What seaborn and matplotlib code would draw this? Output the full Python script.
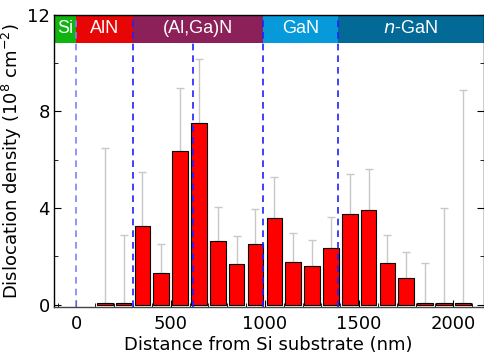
import numpy as np
import pandas as pd
import matplotlib
matplotlib.use("Agg")
import matplotlib.pyplot as plt
from matplotlib.ticker import MultipleLocator
import seaborn as sns

# ---- data ----
distance_nm = [150, 250, 350, 450, 550, 650, 750, 850, 950, 1050, 1150,
               1250, 1350, 1450, 1550, 1650, 1750, 1850, 1950, 2050]
density = [0.06, 0.06, 3.25, 1.3, 6.37, 7.53, 2.62, 1.68, 2.52, 3.57, 1.76,
           1.59, 2.33, 3.77, 3.9, 1.73, 1.12, 0.06, 0.06, 0.06]
err_top = [6.49, 2.88, 5.5, 2.52, 8.97, 10.19, 4.05, 2.84, 3.95, 5.3, 2.95,
           2.66, 3.62, 5.4, 5.63, 2.87, 2.17, 1.71, 3.99, 8.89]

layer_names = ["Si", "AlN", "(Al,Ga)N", "GaN", r"$\mathit{n}$-GaN"]
layer_bounds = [-120, 0, 300, 990, 1390, 2160]
layer_colors = ["#0fb40f", "#e80505", "#8c2058", "#069adb", "#036a98"]
dashed_lines = [0, 300, 620, 990, 1390]

x_ticks = [0, 500, 1000, 1500, 2000]
y_ticks = [0, 4, 8, 12]

sns.set_style("ticks")
plt.rcParams["font.family"] = ["DejaVu Sans"]
plt.rcParams["font.size"] = 13
plt.rcParams["text.color"] = "black"
plt.rcParams["axes.labelcolor"] = "black"
plt.rcParams["xtick.color"] = "black"
plt.rcParams["ytick.color"] = "black"
plt.rcParams["axes.edgecolor"] = "black"

fig = plt.figure(figsize=(4.85, 3.55), dpi=100)
ax = fig.add_axes([0.111, 0.135, 0.886, 0.823])

df = pd.DataFrame({"x": distance_nm, "y": density})
sns.barplot(data=df, x="x", y="y", native_scale=True, width=0.83,
            color="#ff0000", saturation=1, edgecolor="black", linewidth=0.8,
            errorbar=None, ax=ax, zorder=3)

yerr_up = np.array(err_top) - np.array(density)
ax.errorbar(distance_nm, density, yerr=[np.zeros(len(density)), yerr_up],
            fmt="none", ecolor="#c8c8c8", elinewidth=1.0, capsize=3,
            capthick=1.0, zorder=2)

band_lo = 10.85
for i, name in enumerate(layer_names):
    x0, x1 = layer_bounds[i], layer_bounds[i + 1]
    ax.axvspan(x0, x1, ymin=(band_lo + 0.1) / 12.1, ymax=1,
               color=layer_colors[i], lw=0, zorder=4)
    ax.text((x0 + x1) / 2, 11.42, name, color="white", ha="center",
            va="center", fontsize=13, family=["Liberation Sans"], zorder=6)

for xv in dashed_lines:
    col = "#8080ff" if xv == 0 else "#2020ff"
    top = band_lo if xv == 620 else 12
    ax.vlines(xv, -0.1, top, colors=col, linestyles=(0, (4, 3)),
              linewidth=1.2, zorder=5)

ax.set_xlim(-120, 2160)
ax.set_ylim(-0.1, 12)
ax.set_xticks(x_ticks)
ax.set_yticks(y_ticks)
ax.xaxis.set_minor_locator(MultipleLocator(100))
ax.yaxis.set_minor_locator(MultipleLocator(2))
ax.tick_params(which="both", direction="in", top=True, right=True,
               labelsize=13, colors="black")
ax.tick_params(axis="x", pad=6)
ax.tick_params(axis="y", pad=3)
ax.tick_params(which="major", length=5)
ax.tick_params(which="minor", length=3)
for s in ax.spines.values():
    s.set_zorder(7)
    s.set_linewidth(1.0)
ax.spines["bottom"].set_color("#444444")

ax.set_xlabel("Distance from Si substrate (nm)", fontsize=13, labelpad=2)
ax.set_ylabel(r"Dislocation density (10$^8$ cm$^{-2}$)", fontsize=13,
              labelpad=2)

fig.savefig("out.png", dpi=100)
